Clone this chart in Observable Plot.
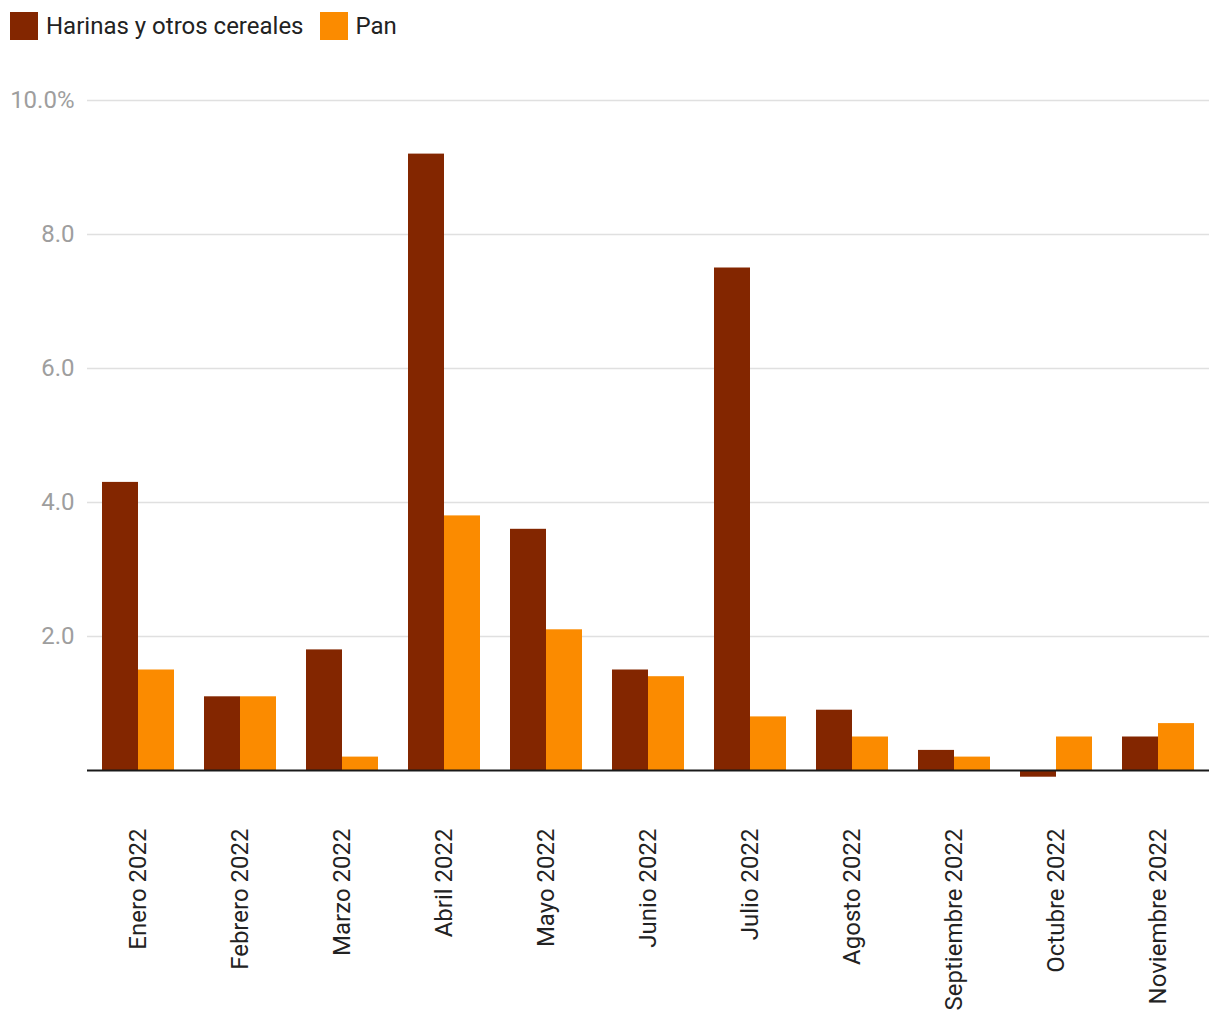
<!DOCTYPE html>
<html>
<head>
<meta charset="utf-8">
<script src="https://cdn.jsdelivr.net/npm/d3@7"></script>
<script src="https://cdn.jsdelivr.net/npm/@observablehq/plot@0.6"></script>
<style>
  body { margin: 0; background: #fff; font-family: Roboto, "Noto Sans", sans-serif; }
  #legend { display: flex; align-items: center; height: 50px; padding-left: 10px; padding-top: 2px; box-sizing: border-box; }
  .item { display: flex; align-items: center; margin-right: 16px; font-size: 24px; color: #222; }
  .sw { width: 28px; height: 28px; margin-right: 8px; }
</style>
</head>
<body>
<div id="legend"></div>
<div id="chart"></div>
<script>
const months = ["Enero 2022","Febrero 2022","Marzo 2022","Abril 2022","Mayo 2022","Junio 2022","Julio 2022","Agosto 2022","Septiembre 2022","Octubre 2022","Noviembre 2022"];
const series = ["Harinas y otros cereales","Pan"];
const harinas = [4.3, 1.1, 1.8, 9.2, 3.6, 1.5, 7.5, 0.9, 0.3, -0.1, 0.5];
const pan = [1.5, 1.1, 0.2, 3.8, 2.1, 1.4, 0.8, 0.5, 0.2, 0.5, 0.7];
const colors = ["#832600", "#fb8b00"];
const yTicks = [0, 2, 4, 6, 8, 10];

const data = months.flatMap((m, i) => [
  {month: m, series: series[0], value: harinas[i]},
  {month: m, series: series[1], value: pan[i]}
]);

const legend = document.getElementById("legend");
series.forEach((s, i) => {
  const it = document.createElement("div");
  it.className = "item";
  it.innerHTML = `<div class="sw" style="background:${colors[i]}"></div><span>${s}</span>`;
  legend.appendChild(it);
});

const chart = Plot.plot({
  width: 1220,
  height: 970,
  marginTop: 50,
  marginBottom: 250,
  marginLeft: 86,
  marginRight: 10,
  style: {fontFamily: "Roboto, sans-serif", fontSize: "24px", background: "#fff"},
  fx: {domain: months, paddingInner: 30/102, paddingOuter: 15/102, label: null, axis: null},
  x: {domain: series, padding: 0, axis: null},
  y: {domain: [0, 10], label: null, axis: null},
  color: {domain: series, range: colors},
  marks: [
    Plot.ruleY(yTicks.filter(d => d !== 0), {stroke: "#e0e0e0", strokeWidth: 1.5, insetLeft: -15, insetRight: -15}),
    Plot.axisY({ticks: yTicks.filter(d => d !== 0), tickSize: 0, tickPadding: 28, label: null,
      tickFormat: d => d === 10 ? "10.0%" : d3.format(".1f")(d), fill: "#9e9e9e", fontSize: 24}),
    Plot.axisFx({anchor: "bottom", tickRotate: -90, tickSize: 0, tickPadding: 58, label: null, fill: "#222", fontSize: 24}),
    Plot.barY(data, {fx: "month", x: "series", y: "value", fill: "series"}),
    Plot.ruleY([0], {stroke: "#1a1a1a", strokeWidth: 2, insetLeft: -15, insetRight: -15})
  ]
});
document.getElementById("chart").appendChild(chart);
</script>
</body>
</html>
